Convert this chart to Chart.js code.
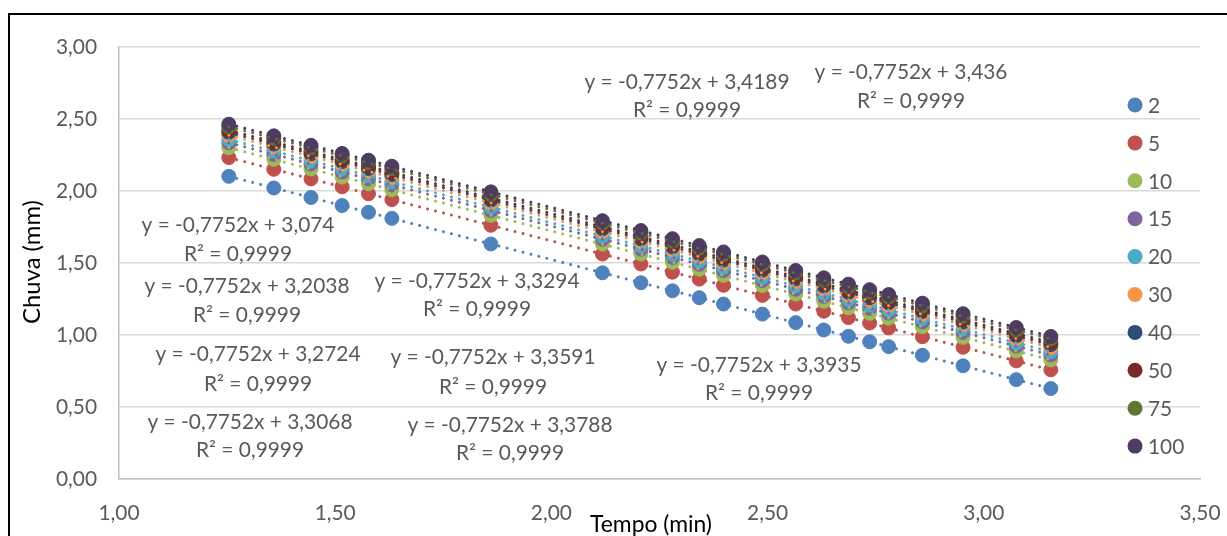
<!DOCTYPE html>
<html><head><meta charset="utf-8">
<script src="https://cdn.jsdelivr.net/npm/chart.js@4.4.0/dist/chart.umd.min.js"></script>
<style>html,body{margin:0;padding:0;background:#fff;overflow:hidden}canvas{display:block}</style>
</head><body>
<canvas id="c" width="1227" height="536"></canvas>
<script>
// ---------- DATA ----------
const seriesNames = ['2', '5', '10', '15', '20', '30', '40', '50', '75', '100'];
const tempo = [1.254, 1.358, 1.444, 1.516, 1.577, 1.631, 1.860, 2.118, 2.207, 2.280, 2.342, 2.398, 2.488, 2.565, 2.630, 2.687, 2.736, 2.780, 2.858, 2.952, 3.075, 3.155];
const chuva2   = [2.102, 2.021, 1.955, 1.899, 1.852, 1.810, 1.632, 1.432, 1.363, 1.307, 1.259, 1.215, 1.145, 1.086, 1.035, 0.991, 0.953, 0.919, 0.859, 0.786, 0.690, 0.628];
const chuva5   = [2.232, 2.151, 2.084, 2.029, 1.981, 1.940, 1.762, 1.562, 1.493, 1.436, 1.388, 1.345, 1.275, 1.215, 1.165, 1.121, 1.083, 1.049, 0.988, 0.915, 0.820, 0.758];
const chuva10  = [2.300, 2.220, 2.153, 2.097, 2.050, 2.008, 1.831, 1.631, 1.562, 1.505, 1.457, 1.414, 1.344, 1.284, 1.234, 1.189, 1.151, 1.117, 1.057, 0.984, 0.889, 0.827];
const chuva15  = [2.335, 2.254, 2.187, 2.132, 2.084, 2.043, 1.865, 1.665, 1.596, 1.539, 1.491, 1.448, 1.378, 1.318, 1.268, 1.224, 1.186, 1.152, 1.091, 1.018, 0.923, 0.861];
const chuva20  = [2.357, 2.277, 2.210, 2.154, 2.107, 2.065, 1.888, 1.688, 1.619, 1.562, 1.514, 1.471, 1.401, 1.341, 1.291, 1.246, 1.208, 1.174, 1.114, 1.041, 0.946, 0.884];
const chuva30  = [2.387, 2.306, 2.240, 2.184, 2.137, 2.095, 1.917, 1.717, 1.648, 1.592, 1.544, 1.500, 1.430, 1.371, 1.320, 1.276, 1.238, 1.204, 1.144, 1.071, 0.975, 0.913];
const chuva40  = [2.407, 2.326, 2.259, 2.204, 2.156, 2.115, 1.937, 1.737, 1.668, 1.611, 1.563, 1.520, 1.450, 1.390, 1.340, 1.296, 1.258, 1.224, 1.163, 1.090, 0.995, 0.933];
const chuva50  = [2.421, 2.341, 2.274, 2.218, 2.171, 2.129, 1.952, 1.752, 1.683, 1.626, 1.578, 1.535, 1.465, 1.405, 1.355, 1.311, 1.273, 1.238, 1.178, 1.105, 1.010, 0.948];
const chuva75  = [2.447, 2.366, 2.300, 2.244, 2.196, 2.155, 1.977, 1.777, 1.708, 1.651, 1.603, 1.560, 1.490, 1.431, 1.380, 1.336, 1.298, 1.264, 1.203, 1.131, 1.035, 0.973];
const chuva100 = [2.464, 2.383, 2.317, 2.261, 2.214, 2.172, 1.994, 1.794, 1.725, 1.669, 1.621, 1.577, 1.507, 1.448, 1.397, 1.353, 1.315, 1.281, 1.221, 1.148, 1.052, 0.990];
const eqSlope = '-0,7752';
const eqIntercepts = ['3,074', '3,2038', '3,2724', '3,3068', '3,3294', '3,3591', '3,3788', '3,3935', '3,4189', '3,436'];
const eqR2 = '0,9999';
const xTitle = 'Tempo (min)';
const yTitle = 'Chuva (mm)';

// ---------- STYLE / LAYOUT ----------
const allSeries = [chuva2, chuva5, chuva10, chuva15, chuva20, chuva30, chuva40, chuva50, chuva75, chuva100];
const colors = ['#4F81BD', '#C0504D', '#9BBB59', '#8064A2', '#4BACC6', '#F79646', '#2C4D75', '#772C2A', '#5F7530', '#4D3B62'];
// label centres: [x, yLine1, yLine2]
const eqPos = [[238, 225, 254], [247, 286, 315], [258, 354, 384], [250, 422, 450], [477, 281, 309],
               [493, 357, 387], [510, 425, 453], [759, 365, 393], [687, 82, 110], [911, 72, 101]];
const FONT = 'Lato, "Open Sans", sans-serif';
const meas = document.createElement('canvas').getContext('2d');
function fitSize(text, target) { meas.font = '100px ' + FONT; return 100 * target / meas.measureText(text).width; }
const mainSize = fitSize('y = -0,7752x + 3,074', 193);
const xTitleSize = fitSize(xTitle, 122);
const yTitleSize = fitSize(yTitle, 124);
const fmt = v => Number(v).toFixed(2).replace('.', ',');

function linFit(xs, ys) {
  const n = xs.length;
  let sx = 0, sy = 0, sxx = 0, sxy = 0;
  for (let i = 0; i < n; i++) { sx += xs[i]; sy += ys[i]; sxx += xs[i] * xs[i]; sxy += xs[i] * ys[i]; }
  const m = (n * sxy - sx * sy) / (n * sxx - sx * sx);
  return { m, b: (sy - m * sx) / n };
}

const datasets = [];
allSeries.forEach((ys, i) => {
  datasets.push({
    label: seriesNames[i], data: tempo.map((x, j) => ({ x, y: ys[j] })),
    backgroundColor: colors[i], borderColor: colors[i], pointRadius: 7, pointBorderWidth: 1,
    pointHoverRadius: 7, showLine: false, order: 100 - i
  });
});
allSeries.forEach((ys, i) => {
  const f = linFit(tempo, ys);
  const x0 = tempo[0], x1 = tempo[tempo.length - 1];
  datasets.push({
    label: 'trend' + seriesNames[i],
    data: [{ x: x0, y: f.m * x0 + f.b }, { x: x1, y: f.m * x1 + f.b }],
    borderColor: colors[i], backgroundColor: colors[i], borderWidth: 3,
    borderDash: [0.01, 8.2], borderCapStyle: 'round', pointRadius: 0, showLine: true, order: 50 - i
  });
});

const overlay = {
  id: 'overlay',
  beforeDraw(chart) {
    const c = chart.ctx; c.save();
    c.strokeStyle = '#000'; c.lineWidth = 2; c.strokeRect(9, 14, 1250, 600);
    c.restore();
  },
  afterDraw(chart) {
    const c = chart.ctx; c.save();
    // legend
    c.font = mainSize + 'px ' + FONT; c.textBaseline = 'middle'; c.textAlign = 'left';
    seriesNames.forEach((name, i) => {
      const y = 105 + i * 37.9;
      c.fillStyle = colors[i]; c.beginPath(); c.arc(1135, y, 7.5, 0, Math.PI * 2); c.fill();
      c.fillStyle = '#595959'; c.fillText(name, 1148, y + 1);
    });
    // trendline equations
    c.textAlign = 'center'; c.fillStyle = '#595959';
    eqIntercepts.forEach((b, i) => {
      const p = eqPos[i];
      c.fillText('y = ' + eqSlope + 'x + ' + b, p[0], p[1]);
      c.fillText('R² = ' + eqR2, p[0], p[2]);
    });
    // axis titles
    c.fillStyle = '#000';
    c.font = xTitleSize + 'px ' + FONT;
    c.fillText(xTitle, 651, 525);
    c.translate(32, 262); c.rotate(-Math.PI / 2);
    c.font = yTitleSize + 'px ' + FONT;
    c.fillText(yTitle, 0, 0);
    c.restore();
  }
};

new Chart(document.getElementById('c'), {
  type: 'scatter',
  data: { datasets },
  options: {
    responsive: false, animation: false, devicePixelRatio: 1,
    layout: { padding: { left: 0, right: 27, top: 47, bottom: 0 } },
    plugins: { legend: { display: false }, tooltip: { enabled: false } },
    scales: {
      x: {
        type: 'linear', min: 1, max: 3.5,
        afterFit: s => { s.height = 57; s.paddingLeft = 0; s.paddingRight = 0; },
        ticks: { stepSize: 0.5, callback: fmt, color: '#595959', padding: 22, font: { family: FONT, size: mainSize } },
        grid: { display: false, drawTicks: false },
        border: { display: true, color: '#BFBFBF', width: 1.5 }
      },
      y: {
        type: 'linear', min: 0, max: 3,
        afterFit: s => { s.width = 119; s.paddingTop = 0; s.paddingBottom = 0; },
        ticks: { stepSize: 0.5, callback: fmt, color: '#595959', padding: 22, font: { family: FONT, size: mainSize } },
        grid: { color: '#D9D9D9', lineWidth: 1.5, drawTicks: false },
        border: { display: true, color: '#BFBFBF', width: 1.5 }
      }
    }
  },
  plugins: [overlay]
});
</script>
</body></html>
